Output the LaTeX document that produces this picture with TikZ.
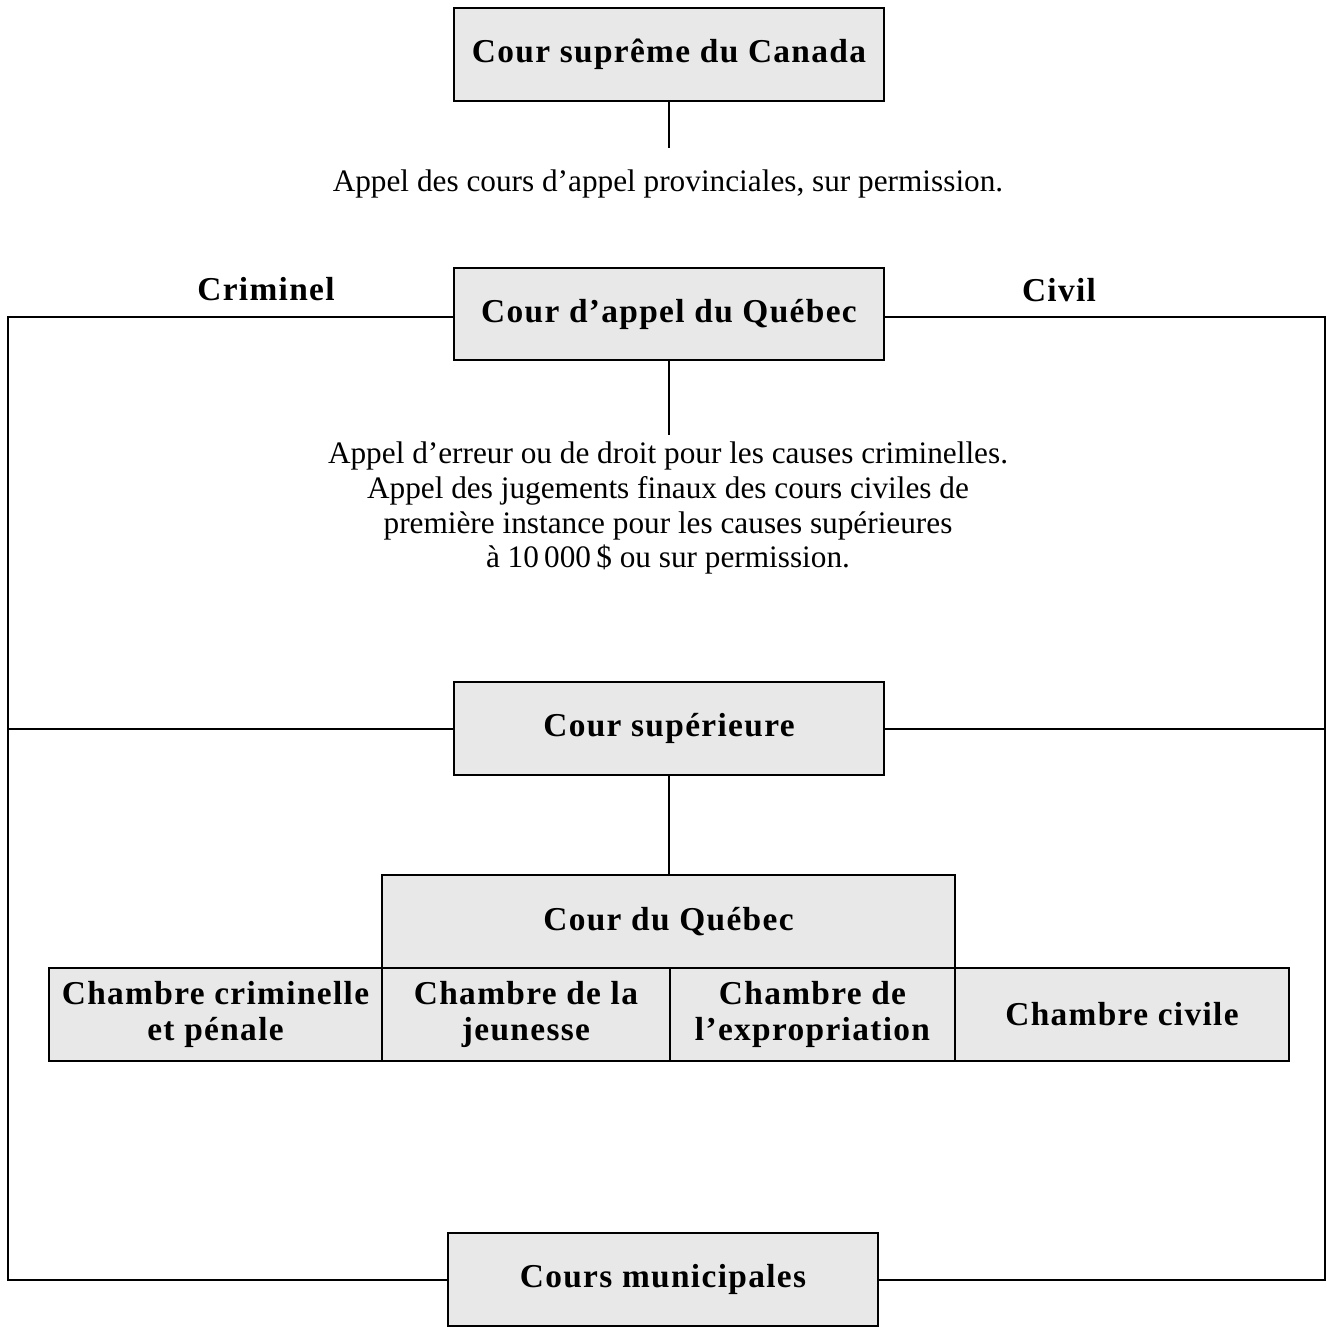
\documentclass[tikz,border=0pt]{standalone}
\usepackage{fontspec}
\setmainfont{Liberation Serif}
\newfontfamily\spacedbf[LetterSpace=4]{Liberation Serif Bold}
\definecolor{boxgray}{HTML}{E8E8E8}
\begin{document}
\begin{tikzpicture}[x=0.02cm,y=-0.02cm,
  court/.style={draw=black, line width=1.6pt, fill=boxgray, inner sep=0pt, align=center,
    font=\spacedbf\fontsize{19}{23}\selectfont},
  plain/.style={font=\fontsize{17.8}{19.9}\selectfont, align=center, inner sep=0pt},
  lab/.style={font=\spacedbf\fontsize{19}{23}\selectfont, inner sep=0pt},
  conn/.style={line width=1.4pt}]
\useasboundingbox (0,0) rectangle (1327,1326);
\fill[white] (0,0) rectangle (1327,1326);
% boxes
\node[court, minimum width=430*0.02cm, minimum height=93*0.02cm] (csc) at (669,54.5) {Cour suprême du Canada};
\node[court, minimum width=430*0.02cm, minimum height=92*0.02cm] (cap) at (669,314) {Cour d’appel du Québec};
\node[court, minimum width=430*0.02cm, minimum height=93*0.02cm] (csup) at (669,728.5) {Cour supérieure};
\node[court, minimum width=573*0.02cm, minimum height=93*0.02cm] (cq) at (668.5,921.5) {Cour du Québec};
\node[court, minimum width=333*0.02cm, minimum height=93*0.02cm] (ch1) at (215.5,1014.5) {Chambre criminelle\\[-2pt]et pénale};
\node[court, minimum width=288*0.02cm, minimum height=93*0.02cm] (ch2) at (526,1014.5) {Chambre de la\\[-2pt]jeunesse};
\node[court, minimum width=285*0.02cm, minimum height=93*0.02cm] (ch3) at (812.5,1014.5) {Chambre de\\[-2pt]l’expropriation};
\node[court, minimum width=334*0.02cm, minimum height=93*0.02cm] (ch4) at (1122,1014.5) {Chambre civile};
\node[court, minimum width=430*0.02cm, minimum height=93*0.02cm] (cm) at (663,1279.5) {Cours municipales};
% labels
\node[lab] (crim) at (266,289) {Criminel};
\node[lab] (civ) at (1059,290) {Civil};
\node[plain] (t1) at (668,184) {Appel des cours d’appel provinciales, sur permission.};
\node[plain] (t2) at (668,508) {Appel d’erreur ou de droit pour les causes criminelles.\\
Appel des jugements finaux des cours civiles de\\
première instance pour les causes supérieures\\
à 10\,000\,\$ ou sur permission.};
% coordinates
\coordinate (e1) at (669,148);
\coordinate (e2) at (669,435);
\coordinate (lt) at (8,317);
\coordinate (lm) at (8,729);
\coordinate (lb) at (8,1280);
\coordinate (rt) at (1325,317);
\coordinate (rm) at (1325,729);
\coordinate (rb) at (1325,1280);
% connectors
\draw[conn] (csc.south) -- (csc.south |- e1);
\draw[conn] (cap.south) -- (cap.south |- e2);
\draw[conn] (csup.south) -- (csup.south |- cq.north);
\draw[conn] (cap.west |- lt) -- (lt) -- (lb) -- (cm.west |- lb);
\draw[conn] (cap.east |- rt) -- (rt) -- (rb) -- (cm.east |- rb);
\draw[conn] (lm) -- (csup.west |- lm);
\draw[conn] (rm) -- (csup.east |- rm);
\end{tikzpicture}
\end{document}
